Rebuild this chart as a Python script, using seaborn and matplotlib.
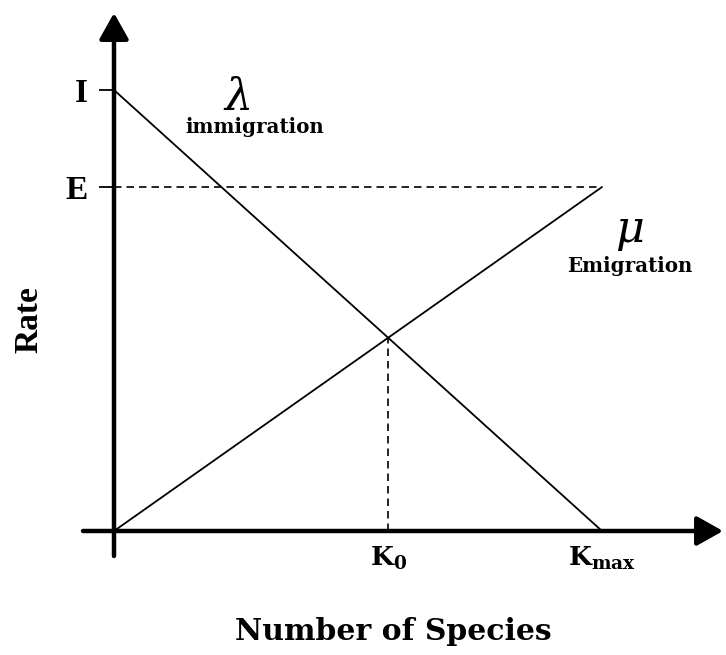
import numpy as np
import pandas as pd
import seaborn as sns
import matplotlib
matplotlib.use("Agg")
import matplotlib.pyplot as plt

# ---- data (normalised rates) ----
species = [0.0, 1.0]            # 0 .. K_max
immigration = [1.0, 0.0]        # I -> 0
emigration = [0.0, 0.78]        # 0 -> E
I_level = 1.0
E_level = 0.78
K_max = 1.0
ytick_labels = ["I", "E"]
xtick_labels = [r"$\mathbf{K_{0}}$", r"$\mathbf{K_{max}}$"]

# equilibrium from the two lines
K0 = I_level / (I_level / K_max + E_level / K_max)
R0 = E_level * K0 / K_max

sns.set_theme(style="white")
plt.rcParams["font.family"] = ["Liberation Serif", "DejaVu Serif"]
plt.rcParams["mathtext.fontset"] = "dejavuserif"
plt.rcParams["text.color"] = "black"
plt.rcParams["axes.labelcolor"] = "black"
plt.rcParams["xtick.color"] = "black"
plt.rcParams["ytick.color"] = "black"

W, H = 726, 655
fig = plt.figure(figsize=(W / 100, H / 100), dpi=100)
ox, oy = 114, 531          # origin in pixels
sx, sy = 488, 441          # pixels per data unit
xmax = (723 - ox) / sx
ymax = (oy - 13) / sy
ax = fig.add_axes([ox / W, (H - oy) / H, (723 - ox) / W, (oy - 13) / H])
ax.set_xlim(0, xmax)
ax.set_ylim(0, ymax)
for s in ax.spines.values():
    s.set_visible(False)

df = pd.DataFrame({"species": species + species,
                   "rate": immigration + emigration,
                   "process": ["immigration"] * 2 + ["emigration"] * 2})
sns.lineplot(data=df, x="species", y="rate", units="process", estimator=None,
             color="black", lw=1.3, ax=ax, legend=False)

# dashed guides
ax.plot([0, K_max], [E_level, E_level], ls=(0, (4.5, 3)), color="black", lw=1.2)
ax.plot([K0, K0], [0, R0], ls=(0, (4.5, 3)), color="black", lw=1.2)

# axes with arrows
ap = dict(arrowstyle="-|>,head_length=0.8,head_width=0.45", lw=3.2,
          color="black", mutation_scale=20, shrinkA=0, shrinkB=0)
ax.annotate("", xy=(xmax, 0), xytext=(-31 / sx, 0), arrowprops=ap,
            annotation_clip=False)
ax.annotate("", xy=(0, ymax), xytext=(0, -25 / sy), arrowprops=ap,
            annotation_clip=False)

# ticks
ax.set_yticks([I_level, E_level])
ax.set_yticklabels(ytick_labels, fontsize=24, fontweight="bold")
ax.tick_params(axis="y", direction="out", length=11, width=1.3, pad=8,
               left=True, color="black")
ax.set_xticks([K0, K_max])
ax.set_xticklabels(xtick_labels, fontsize=19)
ax.tick_params(axis="x", length=0, pad=10)

ax.set_ylabel("Rate", fontsize=24, fontweight="bold")
ax.set_xlabel("Number of Species", fontsize=21.5, fontweight="bold",
              family=["DejaVu Serif"])
ax.xaxis.set_label_coords((393 - ox) / (723 - ox), -(632 - oy) / (oy - 13))
ax.yaxis.set_label_coords(-(ox - 29) / (723 - ox), (oy - 320) / (oy - 13))
ax.xaxis.label.set_va("center")
ax.yaxis.label.set_va("center")

# curve labels
ax.text(0.252, 0.98, r"$\lambda$", fontsize=32, ha="center", va="center",
        family=["Liberation Serif"], style="italic")
ax.text(0.289, 0.915, "immigration", fontsize=14.3, fontweight="bold",
        ha="center", va="center", family=["DejaVu Serif"])
ax.text(1.057, 0.675, r"$\mu$", fontsize=32, ha="center", va="center")
ax.text(1.057, 0.60, "Emigration", fontsize=14.3, fontweight="bold",
        ha="center", va="center", family=["DejaVu Serif"])

fig.savefig("out.png", dpi=100)
